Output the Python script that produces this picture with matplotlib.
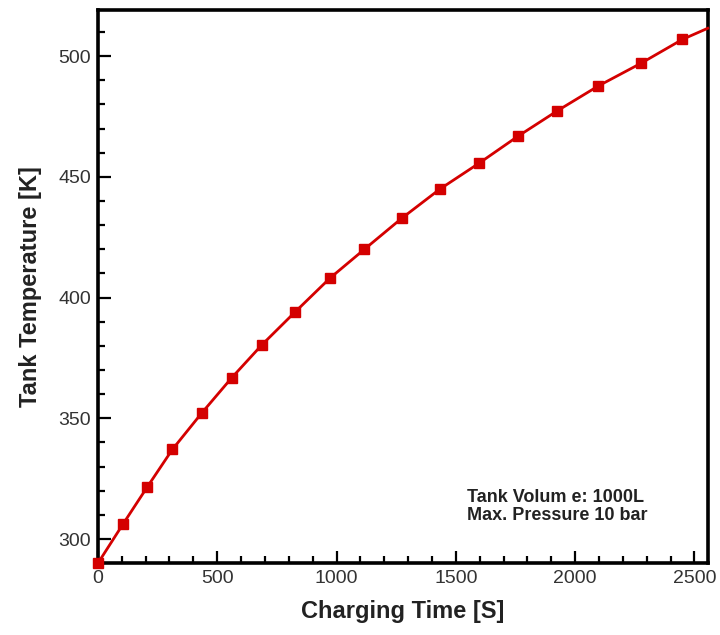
import matplotlib
matplotlib.use("Agg")
import matplotlib.pyplot as plt
from matplotlib.ticker import MultipleLocator

plt.rcParams['font.family'] = ['Liberation Sans', 'DejaVu Sans']

# Charging time [s] and tank temperature [K]
time_s = [0, 105, 207, 312, 436, 560, 688, 825, 972, 1117, 1273, 1433,
          1597, 1759, 1925, 2097, 2276, 2450, 2556]
temp_k = [290.0, 306.2, 321.6, 337.1, 352.3, 366.7, 380.5, 393.9, 408.0,
          420.0, 432.8, 444.9, 455.6, 466.7, 477.3, 487.6, 497.0, 506.9, 511.5]
x_ticks = [0, 500, 1000, 1500, 2000, 2500]
y_ticks = [300, 350, 400, 450, 500]
note = "Tank Volum e: 1000L\nMax. Pressure 10 bar"

fig = plt.figure(figsize=(7.2, 6.35), dpi=100)
ax = fig.add_axes([0.136, 0.113, 0.847, 0.871])

red = "#D40000"
ax.plot(time_s, temp_k, color=red, lw=2.0, marker="s", ms=7,
        markevery=list(range(len(time_s) - 1)), zorder=3, clip_on=False)

ax.set_xlim(0, 2556)
ax.set_ylim(290, 519)
ax.set_xticks(x_ticks)
ax.set_yticks(y_ticks)
ax.xaxis.set_minor_locator(MultipleLocator(100))
ax.yaxis.set_minor_locator(MultipleLocator(10))

for s in ax.spines.values():
    s.set_linewidth(2.6)
ax.tick_params(which="both", direction="in", top=False, right=False,
               width=1.6, colors="black", labelcolor="#333333",
               labelsize=14, pad=5)
ax.tick_params(which="major", length=9)
ax.tick_params(which="minor", length=5)

ax.set_xlabel("Charging Time [S]", fontsize=17, fontweight="bold", labelpad=9,
              color="#222222")
ax.set_ylabel("Tank Temperature [K]", fontsize=17, fontweight="bold", labelpad=12,
              color="#222222")

ax.text(0.606, 0.103, note, transform=ax.transAxes, fontsize=13,
        fontweight="bold", color="#222222", va="center", ha="left",
        linespacing=1.1)

fig.savefig("out.png", dpi=100)
